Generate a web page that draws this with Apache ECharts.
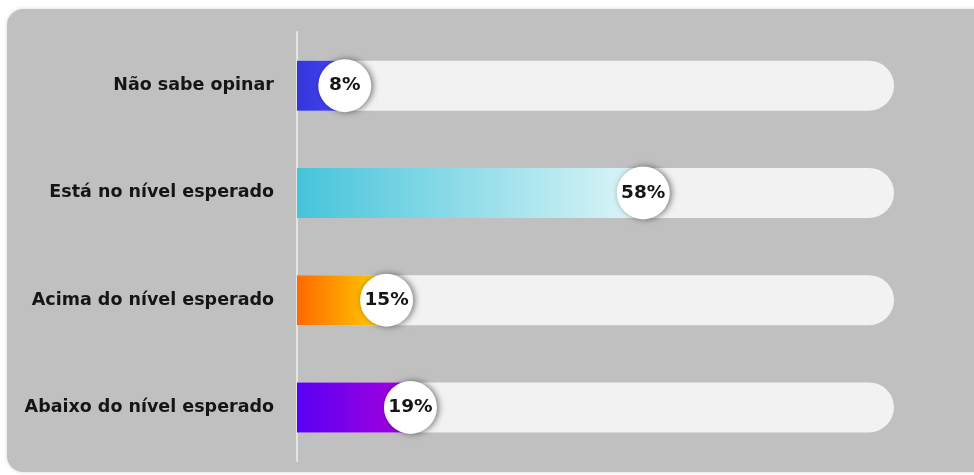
<!DOCTYPE html>
<html><head><meta charset="utf-8">
<script src="https://cdn.jsdelivr.net/npm/echarts@6/dist/echarts.min.js"></script>
<style>html,body{margin:0;padding:0;background:#fff}#c{width:974px;height:475px}</style>
</head><body><div id="c"></div>
<script>
var categories = ['Não sabe opinar', 'Está no nível esperado', 'Acima do nível esperado', 'Abaixo do nível esperado'];
var values = [8, 58, 15, 19];
var gradients = [
  ['#3434d6', '#4848ff'],
  ['#46c4da', '#dff6f8'],
  ['#ff6a00', '#ffd400'],
  ['#5a00f5', '#a800dc']
];
var chart = echarts.init(document.getElementById('c'));
function grad(c){return new echarts.graphic.LinearGradient(0,0,1,0,[{offset:0,color:c[0]},{offset:1,color:c[1]}]);}
chart.setOption({
  animation:false,
  graphic:[{type:'rect',z:-10,shape:{x:7,y:9,width:1000,height:463,r:16},style:{fill:'#c0c0c0',shadowBlur:4,shadowColor:'rgba(0,0,0,0.15)'}}],
  grid:{left:297,right:80,top:32,bottom:14},
  xAxis:{type:'value',min:0,max:100,show:false},
  yAxis:{type:'category',inverse:true,data:categories,
    axisLine:{show:true,lineStyle:{color:'#e4e4e4',width:2}},axisTick:{show:false},
    axisLabel:{margin:23,color:'#151515',fontWeight:'bold',fontSize:17.5,fontFamily:'DejaVu Sans'}},
  series:[
    {type:'bar',barWidth:50,data:values.map(function(v,i){return {value:v,itemStyle:{color:grad(gradients[i])}};}),
     showBackground:true,backgroundStyle:{color:'#f2f2f2',borderRadius:[0,25,25,0]}},
    {type:'scatter',symbolSize:53,data:values.map(function(v,i){return [v,categories[i]];}),
     itemStyle:{color:'#ffffff',opacity:1,shadowBlur:6,shadowOffsetX:2,shadowColor:'rgba(0,0,0,0.5)'},
     label:{show:true,position:'inside',formatter:function(p){return p.value[0]+'%';},color:'#151515',fontWeight:'bold',fontSize:18.5,fontFamily:'DejaVu Sans'},z:5}
  ]
});
</script></body></html>
